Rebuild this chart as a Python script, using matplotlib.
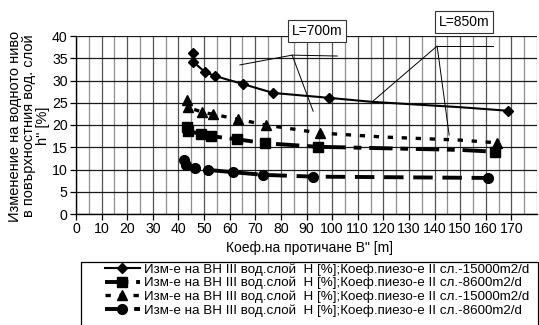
import matplotlib
matplotlib.use("Agg")
import matplotlib.pyplot as plt
from matplotlib.lines import Line2D
from matplotlib.patches import Rectangle
from matplotlib.ticker import MultipleLocator

plt.rcParams["font.family"] = ["Liberation Sans Narrow", "Liberation Sans", "DejaVu Sans"]

# --- data ---
x_15000_h = [45.5, 45.7, 50.4, 54.3, 65.2, 77.0, 98.8, 115.6, 150.0, 168.7]
y_15000_h = [36.2, 34.2, 31.9, 31.0, 29.2, 27.2, 26.1, 25.2, 24.0, 23.2]
mark_15000_h = [0, 1, 2, 3, 4, 5, 6, 9]

x_8600_h = [43.5, 43.8, 48.8, 52.6, 62.8, 73.8, 94.5, 150.0, 163.5]
y_8600_h = [19.6, 18.6, 18.0, 17.5, 16.8, 15.9, 15.1, 14.4, 14.0]
mark_8600_h = [0, 1, 2, 3, 4, 5, 6, 8]

x_15000_d = [43.4, 43.6, 49.2, 53.5, 63.3, 74.0, 95.3, 120.0, 150.0, 164.5]
y_15000_d = [25.6, 24.0, 22.9, 22.4, 21.3, 20.0, 18.2, 17.3, 16.6, 16.0]
mark_15000_d = [0, 1, 2, 3, 4, 5, 6, 9]

x_8600_d = [42.2, 43.0, 46.5, 51.6, 61.3, 73.0, 92.6, 161.0]
y_8600_d = [12.1, 11.0, 10.3, 9.9, 9.4, 8.8, 8.4, 8.1]

label_15000 = "Изм-е на ВН III вод.слой  H [%];Коеф.пиезо-е II сл.-15000m2/d"
label_8600 = "Изм-е на ВН III вод.слой  H [%];Коеф.пиезо-е II сл.-8600m2/d"

# callout lines
l700_x = [64.0, 84.4, 92.6]
l700_y = [33.5, 35.7, 23.1]
l700_top_x = [84.4, 102.0]
l700_top_y = [35.7, 35.5]
l850_x = [115.6, 141.0, 145.7]
l850_y = [25.2, 37.75, 17.75]
l850_top_x = [141.0, 163.0]
l850_top_y = [37.75, 37.75]

W, H = 539, 325
fig = plt.figure(figsize=(W / 100, H / 100), dpi=100)
ax = fig.add_axes([76 / W, 1 - 214 / H, (537 - 76) / W, (214 - 36) / H])

ax.set_xlim(0, 180)
ax.set_ylim(0, 40)
ax.set_xticks(range(0, 171, 10))
ax.xaxis.set_minor_locator(MultipleLocator(5))
ax.yaxis.set_major_locator(MultipleLocator(5))
ax.grid(which="major", axis="y", color="#1a1a1a", linewidth=0.9)
ax.grid(which="major", axis="x", color="#555555", linewidth=0.9)
ax.grid(which="minor", axis="x", color="#8f8f8f", linewidth=0.9)
ax.set_axisbelow(True)
for s in ["top", "right"]:
    ax.spines[s].set_visible(False)
ax.spines["left"].set_linewidth(1.0)
ax.spines["bottom"].set_linewidth(1.0)
ax.tick_params(which="major", length=4, width=0.9, labelsize=10.2, pad=2, direction="out")
ax.tick_params(which="minor", length=0)

ax.plot(x_15000_h, y_15000_h, color="black", linewidth=1.5, marker="D", markersize=5.5,
        markevery=mark_15000_h)
ax.plot(x_8600_h, y_8600_h, color="black", linewidth=2.8, dashes=(6, 2, 2, 2), marker="s",
        markersize=7.5, markevery=mark_8600_h)
ax.plot(x_15000_d, y_15000_d, color="black", linewidth=2.4, dashes=(1.6, 2.6), marker="^",
        markersize=6.5, markevery=mark_15000_d)
ax.plot(x_8600_d, y_8600_d, color="black", linewidth=2.8, dashes=(5, 2.5), marker="o",
        markersize=7)

ax.plot(l700_x, l700_y, color="black", linewidth=0.7)
ax.plot(l700_top_x, l700_top_y, color="black", linewidth=0.7)
ax.plot(l850_x, l850_y, color="black", linewidth=0.7)
ax.plot(l850_top_x, l850_top_y, color="black", linewidth=0.7)

box = dict(boxstyle="square,pad=0.3", facecolor="white", edgecolor="#333333", linewidth=0.8)
fig.text(317 / W, 1 - 31 / H, "L=700m", ha="center", va="center", fontsize=10, bbox=box)
fig.text(464 / W, 1 - 22 / H, "L=850m", ha="center", va="center", fontsize=10, bbox=box)

fig.text(310 / W, 1 - 248 / H, 'Коеф.на протичане B" [m]', ha="center", va="center", fontsize=10)
fig.text(29 / W, 1 - 126 / H, 'Изменение на водното ниво\nв повърхностния вод. слой\nh" [%]',
         rotation=90, ha="center", va="center", multialignment="center", fontsize=10.5,
         linespacing=1.0)

# legend
fig.add_artist(Rectangle((81 / W, 1 - 330 / H), (538 - 81) / W, 68 / H,
                         transform=fig.transFigure, fill=False, edgecolor="black", linewidth=0.9))
handles = [
    Line2D([], [], color="black", linewidth=1.5, marker="D", markersize=5.5),
    Line2D([], [], color="black", linewidth=2.8, dashes=(6, 2, 2, 2), marker="s", markersize=7.5),
    Line2D([], [], color="black", linewidth=2.4, dashes=(1.6, 2.6), marker="^", markersize=6.5),
    Line2D([], [], color="black", linewidth=2.8, dashes=(5, 2.5), marker="o", markersize=7),
]
labels = [label_15000, label_8600, label_15000, label_8600]
fig.legend(handles, labels, loc="upper left", bbox_to_anchor=(105 / W, 1 - 263 / H),
           frameon=False, fontsize=9.6, handlelength=2.6, handletextpad=0.3,
           labelspacing=0.1, borderpad=0.0, borderaxespad=0.0)

fig.savefig("out.png", dpi=100)
